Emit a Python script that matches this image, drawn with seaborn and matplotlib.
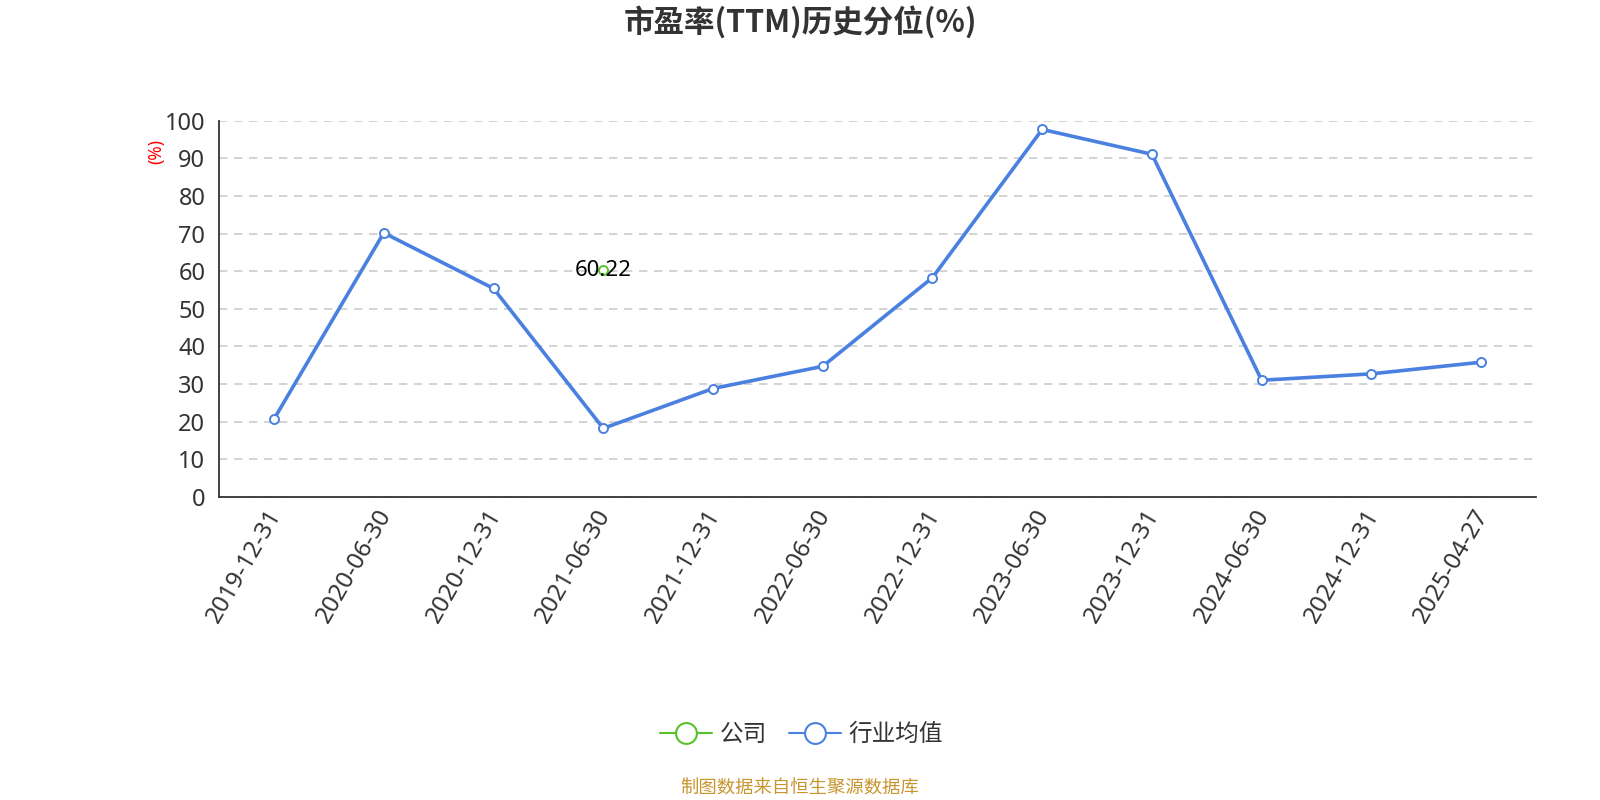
import numpy as np
import pandas as pd
import matplotlib
matplotlib.use('Agg')
import matplotlib.pyplot as plt
import matplotlib.transforms as mtransforms
from matplotlib.lines import Line2D
import seaborn as sns

# 数据
dates = ['2019-12-31', '2020-06-30', '2020-12-31', '2021-06-30', '2021-12-31', '2022-06-30',
         '2022-12-31', '2023-06-30', '2023-12-31', '2024-06-30', '2024-12-31', '2025-04-27']
industry = [20.7, 70.2, 55.4, 18.2, 28.8, 34.7, 58.3, 97.7, 91.1, 31.0, 32.7, 35.8]
company_dates = ['2021-06-30']
company = [60.22]

yticks = [0, 10, 20, 30, 40, 50, 60, 70, 80, 90, 100]

sns.set_style('white')
plt.rcParams['font.family'] = ['Noto Sans', 'Noto Sans CJK SC', 'DejaVu Sans']

blue = '#4a80e0'
green = '#58c22a'

fig = plt.figure(figsize=(16, 8), dpi=100)
ax = fig.add_axes([0.137, 0.379, 0.823, 0.47])

df_ind = pd.DataFrame({'date': dates, 'value': industry})
df_com = pd.DataFrame({'date': company_dates, 'value': company})

sns.lineplot(data=df_ind, x='date', y='value', ax=ax, color=blue, linewidth=2.6,
             marker='o', markersize=6.5, markerfacecolor='white',
             markeredgecolor=blue, markeredgewidth=1.4, sort=False, zorder=3)
sns.lineplot(data=df_com, x='date', y='value', ax=ax, color=green, linewidth=2.6,
             marker='o', markersize=6.5, markerfacecolor='white',
             markeredgecolor=green, markeredgewidth=1.4, sort=False, zorder=4)

# 数据标签
for d, v in zip(company_dates, company):
    ax.text(dates.index(d), v, f'{v:.2f}', ha='center', va='center',
            fontsize=16, color='#000000', zorder=5)

ax.set_xlim(-0.5, len(dates) - 0.5)
ax.set_ylim(0, 100)
ax.set_yticks(yticks)
ax.tick_params(axis='y', labelsize=17, labelcolor='#333333', length=6, color='#333333', pad=4)

ax.set_xticks(range(len(dates)))
ax.set_xticklabels(dates, rotation=60, ha='right', rotation_mode='anchor',
                   fontsize=17.5, color='#333333')
ax.tick_params(axis='x', which='major', length=0, pad=6)
shift = mtransforms.ScaledTranslation(-8 / 100, 0, fig.dpi_scale_trans)
for lab in ax.get_xticklabels():
    lab.set_transform(lab.get_transform() + shift)
ax.set_xticks(np.arange(-0.5, len(dates), 1), minor=True)
ax.tick_params(axis='x', which='minor', length=6, color='#333333', width=1.2)

ax.set_xlabel('')
ax.set_ylabel('')
ax.yaxis.grid(True, linestyle=(0, (5, 4)), color='#cccccc', linewidth=1.2)
ax.xaxis.grid(False)
for s in ['top', 'right']:
    ax.spines[s].set_visible(False)
for s in ['left', 'bottom']:
    ax.spines[s].set_color('#333333')
    ax.spines[s].set_linewidth(1.3)

fig.text(0.0975, 0.81, '(%)', rotation=90, color='red', fontsize=12.5, ha='center', va='center')

fig.text(0.5, 0.972, '市盈率(TTM)历史分位(%)', ha='center', va='center',
         fontsize=22, fontweight='bold', color='#333333',
         family=['Noto Sans CJK SC', 'DejaVu Sans'])

handles = [
    Line2D([0], [0], color=green, lw=1.5, marker='o', markersize=15,
           markerfacecolor='white', markeredgecolor=green, markeredgewidth=1.5),
    Line2D([0], [0], color=blue, lw=1.5, marker='o', markersize=15,
           markerfacecolor='white', markeredgecolor=blue, markeredgewidth=1.5),
]
fig.legend(handles, ['公司', '行业均值'], loc='center', bbox_to_anchor=(0.501, 0.081),
           ncol=2, frameon=False, fontsize=17, handlelength=2.2, columnspacing=0.9,
           handletextpad=0.35, labelcolor='#333333')

fig.text(0.5, 0.014, '制图数据来自恒生聚源数据库', ha='center', va='center',
         fontsize=13.2, color='#c8952e')

plt.savefig('out.png', dpi=100)
